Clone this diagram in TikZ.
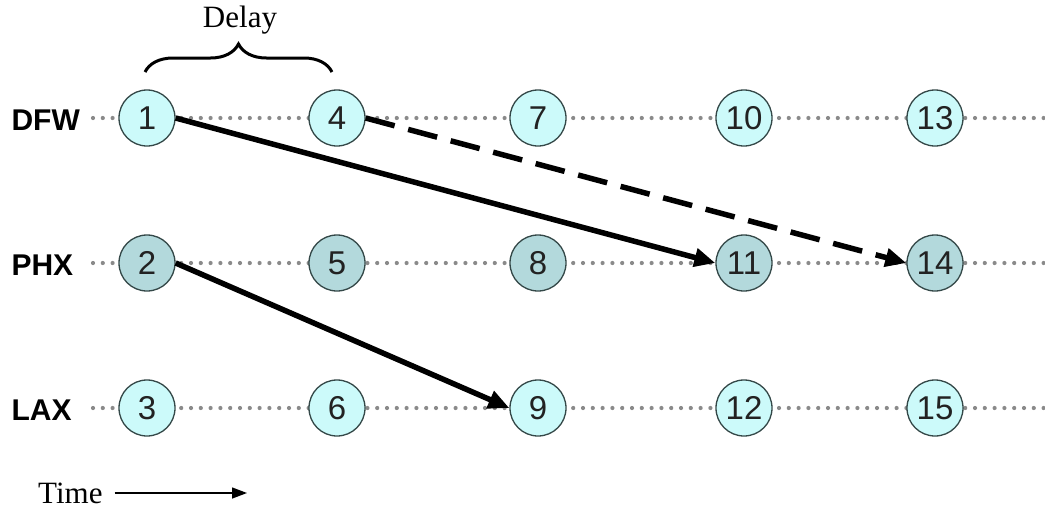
\documentclass[tikz,border=0pt]{standalone}
\usepackage{fontspec}
\setmainfont{Liberation Serif}
\setsansfont{Liberation Sans}
\usetikzlibrary{arrows.meta,decorations.pathreplacing}
\definecolor{lightc}{HTML}{CCFAFA}
\definecolor{midc}{HTML}{B3D9DC}
\definecolor{ringc}{HTML}{344848}
\definecolor{dotc}{HTML}{8A8A8A}
\definecolor{digitc}{HTML}{222222}
\begin{document}
\begin{tikzpicture}[x=1pt,y=-1pt,
  stop/.style={circle,draw=ringc,line width=1.3pt,minimum size=56pt,inner sep=0pt,
    text=digitc,font=\sffamily\fontsize{33}{33}\selectfont},
  light/.style={stop,fill=lightc},
  mid/.style={stop,fill=midc},
  city/.style={anchor=west,font=\sffamily\bfseries\fontsize{30}{30}\selectfont},
  track/.style={dotc,line width=4.2pt,line cap=round,dash pattern=on 0pt off 9.8pt},
  flow/.style={line width=5.5pt,-{Triangle[length=21pt,width=18pt]}},
  serif/.style={font=\rmfamily\fontsize{31}{31}\selectfont}]
\useasboundingbox (0,0) rectangle (1045,512);
\fill[white] (0,0) rectangle (1045,512);
% tracks
\coordinate (t1a) at (93,118); \coordinate (t1b) at (1045,118);
\coordinate (t2a) at (93,263); \coordinate (t2b) at (1045,263);
\coordinate (t3a) at (93,408); \coordinate (t3b) at (1045,408);
\draw[track] (t1a) -- (t1b);
\draw[track] (t2a) -- (t2b);
\draw[track] (t3a) -- (t3b);
% city labels
\node[city] (dfw) at (8,120) {DFW};
\node[city] (phx) at (8,265) {PHX};
\node[city] (lax) at (8,410) {LAX};
% nodes
\node[light] (n1) at (147,118) {1};
\node[light] (n4) at (337,118) {4};
\node[light] (n7) at (538,118) {7};
\node[light] (n10) at (744,118) {10};
\node[light] (n13) at (935,118) {13};
\node[mid] (n2) at (147,263) {2};
\node[mid] (n5) at (337,263) {5};
\node[mid] (n8) at (538,263) {8};
\node[mid] (n11) at (744,263) {11};
\node[mid] (n14) at (935,263) {14};
\node[light] (n3) at (147,408) {3};
\node[light] (n6) at (337,408) {6};
\node[light] (n9) at (538,408) {9};
\node[light] (n12) at (744,408) {12};
\node[light] (n15) at (935,408) {15};
% flows
\draw[flow] (n1.east) -- (n11.west);
\draw[flow,dash pattern=on 30pt off 14pt] (n4.east) -- (n14.west);
\draw[flow] (n2.east) -- (n9.west);
% delay brace
\coordinate (bl) at (145,72);
\coordinate (br) at (332,72);
\draw[line width=3pt,decorate,decoration={brace,amplitude=28pt}] (bl) -- (br);
\node[serif] (delay) at (240,20) {Delay};
% time
\node[serif,anchor=west,inner sep=0pt] (time) at (38,493) {Time};
\coordinate (tend) at (247,493);
\draw[line width=1.4pt,-{Triangle[length=15pt,width=11pt]}] ([xshift=12pt]time.east) -- (tend);
\end{tikzpicture}
\end{document}
